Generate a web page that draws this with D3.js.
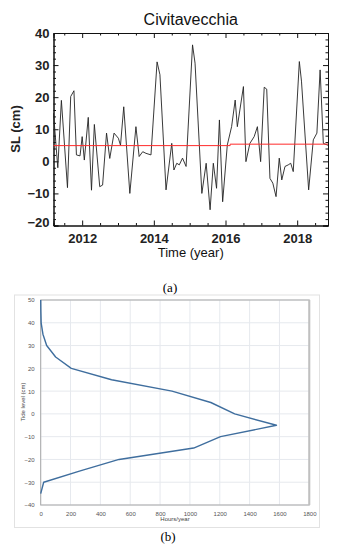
<!DOCTYPE html>
<html>
<head>
<meta charset="utf-8">
<script src="https://cdn.jsdelivr.net/npm/d3@7"></script>
<style>
  body { margin: 0; background: #fff; }
  svg { display: block; }
</style>
</head>
<body>
<div id="chart"></div>
<script>
// (a) sea level time series at Civitavecchia
const slYear = [2011.20, 2011.32, 2011.42, 2011.59, 2011.68, 2011.77, 2011.84, 2011.94, 2012.00, 2012.06,
    2012.17, 2012.26, 2012.34, 2012.49, 2012.57, 2012.68, 2012.77, 2012.89, 2013.01, 2013.07,
    2013.16, 2013.33, 2013.50, 2013.59, 2013.69, 2013.78, 2013.92, 2014.09, 2014.17, 2014.34,
    2014.50, 2014.56, 2014.64, 2014.71, 2014.80, 2014.90, 2015.08, 2015.15, 2015.34, 2015.46,
    2015.57, 2015.66, 2015.75, 2015.83, 2015.92, 2016.05, 2016.17, 2016.27, 2016.33, 2016.50,
    2016.57, 2016.68, 2016.80, 2016.89, 2016.98, 2017.08, 2017.15, 2017.24, 2017.32, 2017.41,
    2017.50, 2017.57, 2017.66, 2017.75, 2017.82, 2017.89, 2018.06, 2018.12, 2018.32, 2018.45,
    2018.55, 2018.64, 2018.73, 2018.86];
const slValue = [15, -2, 19, -8.2, 20.2, 22, 2, 1.7, 7.7, 0.4,
    13.7, -9, 11.5, -7.9, -7.4, 8.8, 0.9, 8.8, 7.2, 5,
    17, -10, 10.8, 1.5, 3, 2.5, 2, 31, 27, -8.9,
    5.6, -2.7, -0.6, -1.1, 1, -1.6, 36.3, 30.6, -10, -0.6,
    -15.1, -0.6, -8.4, 12.9, -12.6, 5.1, 10.8, 19.1, 10.8, 23.3,
    -0.1, 5.6, 7.7, 10.8, -0.1, 23.1, 22.5, -5.3, -6.8, -11,
    1, -5.8, -1.6, -1.1, -0.6, -3.2, 31.1, 25, -8.9, 6.7,
    8.8, 28.5, 5.6, 5];
const meanYear = [2011.20, 2016.13, 2016.13, 2018.86];
const meanValue = [4.9, 4.9, 5.35, 5.35];
const yearTicks = [2012, 2014, 2016, 2018];
const slTicks = [-20, -10, 0, 10, 20, 30, 40];

// (b) tide level duration curve
const tideLevel = [50, 45, 40, 35, 30, 25, 20, 15, 10, 5, 0, -5, -10, -15, -20, -25, -30, -35];
const hoursPerYear = [0, 1, 3, 15, 40, 100, 205, 475, 880, 1140, 1300, 1580, 1205, 1025, 525, 265, 20, 0];
const hourTicks = [0, 200, 400, 600, 800, 1000, 1200, 1400, 1600, 1800];
const levelTicks = [-40, -30, -20, -10, 0, 10, 20, 30, 40, 50];

const svg = d3.select("#chart").append("svg")
    .attr("width", 340)
    .attr("height", 550)
    .style("font-family", "'Liberation Sans', Arial, sans-serif");

// ---------- panel (a) ----------
const xA = d3.scaleLinear().domain([2011.2, 2018.86]).range([53.5, 328]);
const yA = d3.scaleLinear().domain([-20, 40]).range([225.5, 33]);
const panelA = svg.append("g");

const minorYears = d3.range(2011.5, 2018.9, 0.5).filter(v => !yearTicks.includes(v));
const minorSL = d3.range(-18, 40, 2).filter(v => !slTicks.includes(v));

function boxAxis(axis, pos, ticks, size, labels) {
    const g = panelA.append("g").attr("transform", pos)
        .call(axis.tickValues(ticks).tickSize(-size).tickFormat(labels ? d3.format("d") : ""));
    g.select(".domain").attr("stroke", "#111");
    g.selectAll(".tick line").attr("stroke", "#111");
    return g;
}

// bottom
const xb = boxAxis(d3.axisBottom(xA), "translate(0,225.5)", yearTicks, 5, true);
boxAxis(d3.axisBottom(xA), "translate(0,225.5)", minorYears, 2.5, false);
xb.selectAll(".tick text").attr("y", 8.5).attr("dy", "0.71em")
    .style("font-size", "13px").style("font-weight", "bold").attr("fill", "#222");
// top
boxAxis(d3.axisTop(xA), "translate(0,33)", yearTicks, 5, false);
boxAxis(d3.axisTop(xA), "translate(0,33)", minorYears, 2.5, false);
// left
const yl = boxAxis(d3.axisLeft(yA), "translate(53.5,0)", slTicks, 5, true);
boxAxis(d3.axisLeft(yA), "translate(53.5,0)", minorSL, 2.5, false);
yl.selectAll(".tick text").attr("x", -4)
    .style("font-size", "13px").style("font-weight", "bold").attr("fill", "#222");
yl.selectAll(".tick").filter(d => d === -20).select("text").attr("dy", "0.05em");
// right
boxAxis(d3.axisRight(yA), "translate(328,0)", slTicks, 5, false);
boxAxis(d3.axisRight(yA), "translate(328,0)", minorSL, 2.5, false);
panelA.selectAll(".tick text").filter(function() { return this.textContent === ""; }).remove();

const slLine = d3.line().x(i => xA(slYear[i])).y(i => yA(slValue[i]));
panelA.append("path")
    .attr("d", slLine(d3.range(slYear.length)))
    .attr("fill", "none")
    .attr("stroke", "#222")
    .attr("stroke-width", 0.9);

const meanLine = d3.line().x(i => xA(meanYear[i])).y(i => yA(meanValue[i]));
panelA.append("path")
    .attr("d", meanLine(d3.range(meanYear.length)))
    .attr("fill", "none")
    .attr("stroke", "#ff2a2a")
    .attr("stroke-width", 1);

panelA.append("text")
    .attr("x", 190.75).attr("y", 25)
    .attr("text-anchor", "middle")
    .style("font-size", "16px").attr("fill", "#111")
    .text("Civitavecchia");

panelA.append("text")
    .attr("x", 190.75).attr("y", 256.5)
    .attr("text-anchor", "middle")
    .style("font-size", "13px").attr("fill", "#111")
    .text("Time (year)");

panelA.append("text")
    .attr("transform", "rotate(-90)")
    .attr("x", -129).attr("y", 20)
    .attr("text-anchor", "middle")
    .style("font-size", "13px").style("font-weight", "bold").attr("fill", "#222")
    .text("SL (cm)");

svg.append("text")
    .attr("x", 170).attr("y", 292)
    .attr("text-anchor", "middle")
    .style("font-family", "'Liberation Serif', 'Times New Roman', serif")
    .style("font-size", "13px")
    .text("(a)");

// ---------- panel (b) ----------
const xB = d3.scaleLinear().domain([0, 1800]).range([40.7, 309.3]);
const yB = d3.scaleLinear().domain([-40, 50]).range([505, 300]);
const panelB = svg.append("g");

panelB.append("rect")
    .attr("x", 14.5).attr("y", 295)
    .attr("width", 305).attr("height", 232.5)
    .attr("fill", "#fff")
    .attr("stroke", "#e2e2e2");

// grid
panelB.append("g").selectAll("line").data(hourTicks).join("line")
    .attr("x1", d => xB(d)).attr("x2", d => xB(d))
    .attr("y1", yB(50)).attr("y2", yB(-40))
    .attr("stroke", "#e6e9ee");
panelB.append("g").selectAll("line").data(levelTicks).join("line")
    .attr("x1", xB(0)).attr("x2", xB(1800))
    .attr("y1", d => yB(d)).attr("y2", d => yB(d))
    .attr("stroke", "#e6e9ee");

panelB.append("rect")
    .attr("x", xB(0)).attr("y", yB(50))
    .attr("width", xB(1800) - xB(0)).attr("height", yB(-40) - yB(50))
    .attr("fill", "none")
    .attr("stroke", "#a8a8a8");
panelB.append("line")
    .attr("x1", xB(1800)).attr("x2", xB(1800))
    .attr("y1", yB(50)).attr("y2", yB(-40))
    .attr("stroke", "#c0c0c0").attr("stroke-width", 2);

const xbAxis = panelB.append("g").attr("transform", `translate(0,${yB(-40)})`)
    .call(d3.axisBottom(xB).tickValues(hourTicks).tickFormat(d3.format("d")).tickSize(0).tickPadding(7));
const ybAxis = panelB.append("g").attr("transform", `translate(${xB(0)},0)`)
    .call(d3.axisLeft(yB).tickValues(levelTicks).tickFormat(d3.format("d")).tickSize(0).tickPadding(6));
[xbAxis, ybAxis].forEach(g => {
    g.select(".domain").remove();
    g.selectAll(".tick text").style("font-size", "6px").attr("fill", "#555");
});

const tideLine = d3.line().x(i => xB(hoursPerYear[i])).y(i => yB(tideLevel[i]));
panelB.append("path")
    .attr("d", tideLine(d3.range(tideLevel.length)))
    .attr("fill", "none")
    .attr("stroke", "#3f6e9e")
    .attr("stroke-width", 1.4)
    .attr("stroke-linejoin", "round");

panelB.append("text")
    .attr("x", 175).attr("y", 521)
    .attr("text-anchor", "middle")
    .style("font-size", "6px").attr("fill", "#444")
    .text("Hours/year");

panelB.append("text")
    .attr("transform", "rotate(-90)")
    .attr("x", -402).attr("y", 25)
    .attr("text-anchor", "middle")
    .style("font-size", "6px").attr("fill", "#444")
    .text("Tide level (cm)");

svg.append("text")
    .attr("x", 168).attr("y", 541)
    .attr("text-anchor", "middle")
    .style("font-family", "'Liberation Serif', 'Times New Roman', serif")
    .style("font-size", "13px")
    .text("(b)");
</script>
</body>
</html>
